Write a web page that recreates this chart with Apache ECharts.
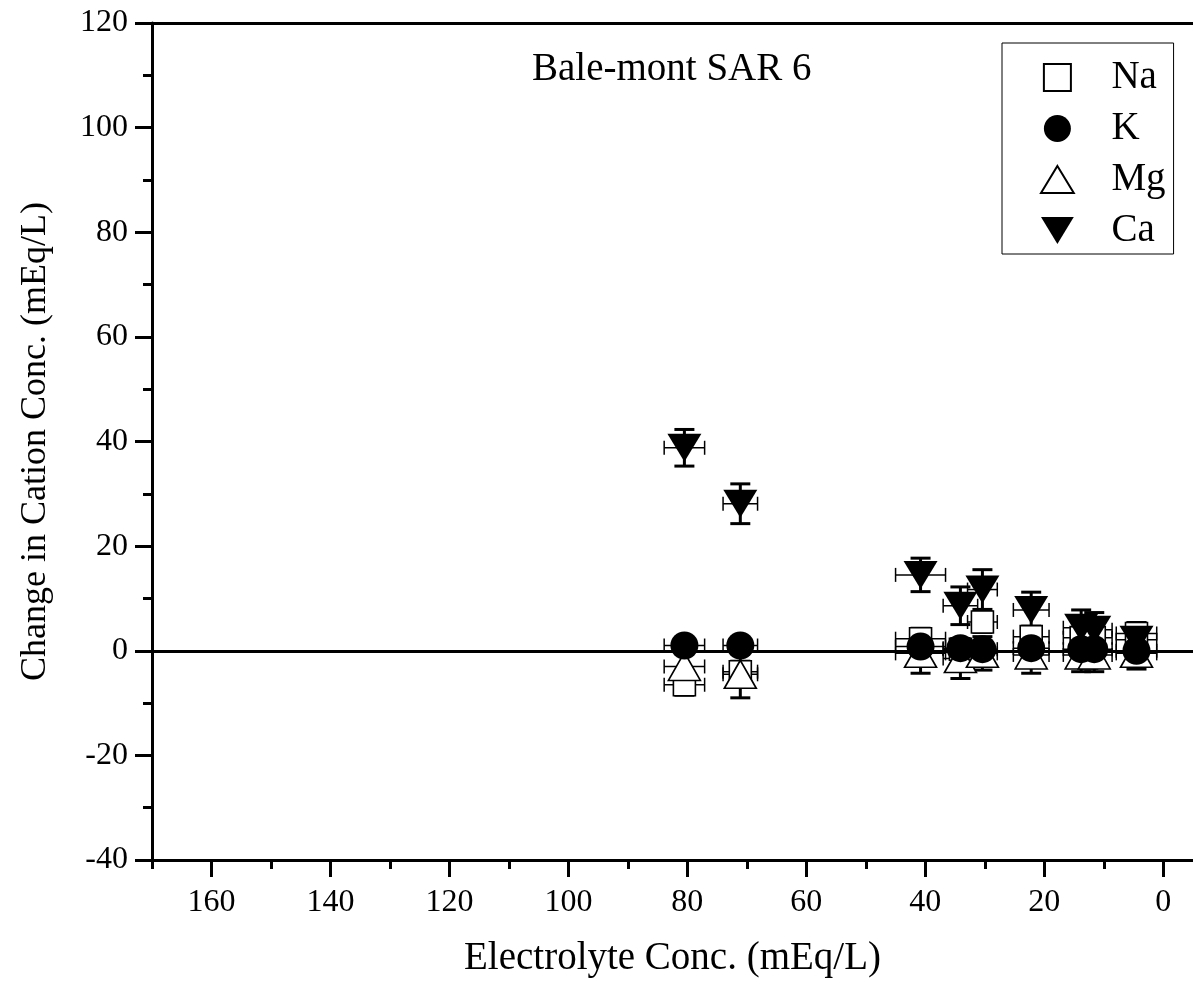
<!DOCTYPE html>
<html>
<head>
<meta charset="utf-8">
<script src="https://cdn.jsdelivr.net/npm/echarts@6/dist/echarts.min.js"></script>
<style>
html,body{margin:0;padding:0;background:#fff;}
#chart{width:1193px;height:991px;}
</style>
</head>
<body>
<div id="chart"></div>
<script>
// ---- data ----
const xVals = [80.5, 71.1, 40.8, 34.1, 30.4, 22.2, 13.8, 11.6, 4.5];
const xErr  = [3.4, 2.9, 4.2, 2.9, 2.5, 3.0, 3.0, 3.0, 3.4];

const naVals = [-6.5, -4.0, 2.3, 0.3, 5.5, 2.7, 2.5, 2.5, 3.3];
const naErr  = [2.0, 2.0, 2.0, 2.0, 2.0, 2.0, 2.0, 2.0, 2.0];
const kVals  = [1.0, 1.0, 0.8, 0.5, 0.3, 0.5, 0.3, 0.3, 0.0];
const kErr   = [1.0, 1.0, 1.0, 1.0, 1.0, 1.0, 1.0, 1.0, 1.0];
const mgVals = [-3.0, -4.5, -0.5, -1.5, -0.5, -0.8, -0.8, -0.8, -0.5];
const mgErr  = [3.0, 4.5, 3.8, 3.8, 3.2, 3.5, 3.2, 3.2, 3.0];
const caVals = [38.8, 28.1, 14.5, 8.6, 11.7, 7.8, 4.4, 4.0, 2.1];
const caErr  = [3.5, 3.8, 3.2, 3.6, 3.8, 3.4, 3.4, 3.3, 3.3];

const xMajorTicks = [0, 20, 40, 60, 80, 100, 120, 140, 160];
const xMinorTicks = [10, 30, 50, 70, 90, 110, 130, 150, 170];

const seriesNames = ['Na', 'K', 'Mg', 'Ca'];
const titleText = 'Bale-mont SAR 6';
const xName = 'Electrolyte Conc. (mEq/L)';
const yName = 'Change in Cation Conc. (mEq/L)';

const FONT = '"Liberation Serif", "Times New Roman", serif';

function pts(ys) { return xVals.map((x, i) => [x, ys[i]]); }

function errSeries(name, ys, yerr) {
  return {
    type: 'custom',
    name: name + ' error',
    z: 3,
    silent: true,
    data: xVals.map((x, i) => [x, ys[i], xErr[i], yerr[i]]),
    encode: { x: 0, y: 1 },
    renderItem: function (params, api) {
      const x = api.value(0), y = api.value(1), xe = api.value(2), ye = api.value(3);
      const c = api.coord([x, y]);
      const t = api.coord([x, y + ye]);
      const b = api.coord([x, y - ye]);
      const l = api.coord([x + xe, y]);
      const r = api.coord([x - xe, y]);
      const vcap = 10, hcap = 7;
      const st = { stroke: '#000', lineWidth: 3 };
      const st2 = { stroke: '#000', lineWidth: 1.5 };
      return {
        type: 'group',
        children: [
          { type: 'line', shape: { x1: c[0], y1: t[1], x2: c[0], y2: b[1] }, style: st },
          { type: 'line', shape: { x1: c[0] - vcap, y1: t[1], x2: c[0] + vcap, y2: t[1] }, style: st },
          { type: 'line', shape: { x1: c[0] - vcap, y1: b[1], x2: c[0] + vcap, y2: b[1] }, style: st },
          { type: 'line', shape: { x1: l[0], y1: c[1], x2: r[0], y2: c[1] }, style: st2 },
          { type: 'line', shape: { x1: l[0], y1: c[1] - hcap, x2: l[0], y2: c[1] + hcap }, style: st2 },
          { type: 'line', shape: { x1: r[0], y1: c[1] - hcap, x2: r[0], y2: c[1] + hcap }, style: st2 }
        ]
      };
    }
  };
}

const chart = echarts.init(document.getElementById('chart'), null, { renderer: 'canvas' });

const axisLbl = { fontFamily: FONT, fontSize: 32, color: '#000' };

chart.setOption({
  animation: false,
  backgroundColor: '#fff',
  title: {
    text: titleText,
    left: 527, top: 45,
    textStyle: { fontFamily: FONT, fontSize: 39, fontWeight: 'normal', color: '#000' }
  },
  legend: {
    data: [
      { name: seriesNames[0], icon: 'path://M0,0L10,0L10,10L0,10Z' },
      { name: seriesNames[1], icon: 'circle' },
      { name: seriesNames[2], icon: 'path://M17,0L34,28L0,28Z' },
      { name: seriesNames[3], icon: 'path://M0,0L34,0L17,28Z' }
    ],
    orient: 'vertical',
    left: 1002, top: 43,
    itemWidth: 34, itemHeight: 27, itemGap: 12,
    padding: [15, 8, 4, 38],
    borderColor: '#000', borderWidth: 1,
    textStyle: { fontFamily: FONT, fontSize: 39, color: '#000', padding: [0, 0, 0, 32] },
    selectedMode: false
  },
  grid: { left: 152, right: 0, top: 23, bottom: 131, containLabel: false },
  xAxis: [
    {
      type: 'value', min: -5, max: 170, inverse: true, position: 'bottom',
      name: xName, nameLocation: 'middle', nameGap: 79,
      nameTextStyle: { fontFamily: FONT, fontSize: 39, color: '#000' },
      axisLine: { show: true, onZero: false, lineStyle: { color: '#000', width: 3 } },
      axisTick: { show: true, inside: false, length: 17, customValues: xMajorTicks, lineStyle: { color: '#000', width: 3 } },
      axisLabel: Object.assign({ customValues: xMajorTicks, margin: 27 }, axisLbl),
      splitLine: { show: false }
    },
    {
      type: 'value', min: -5, max: 170, inverse: true, position: 'bottom',
      axisLine: { show: false, onZero: false },
      axisTick: { show: true, inside: false, length: 9, customValues: xMinorTicks, lineStyle: { color: '#000', width: 3 } },
      axisLabel: { show: false },
      splitLine: { show: false }
    },
    {
      type: 'value', min: -5, max: 170, inverse: true, position: 'top',
      axisLine: { show: true, onZero: false, lineStyle: { color: '#000', width: 3 } },
      axisTick: { show: false }, axisLabel: { show: false }, splitLine: { show: false }
    }
  ],
  yAxis: [
    {
      type: 'value', min: -40, max: 120, interval: 20, position: 'left',
      name: yName, nameLocation: 'middle', nameGap: 98, nameRotate: 90,
      nameTextStyle: { fontFamily: FONT, fontSize: 36, color: '#000' },
      axisLine: { show: true, onZero: false, lineStyle: { color: '#000', width: 3 } },
      axisTick: { show: true, inside: false, length: 17, lineStyle: { color: '#000', width: 3 } },
      minorTick: { show: true, splitNumber: 2, length: 9, lineStyle: { color: '#000', width: 3 } },
      axisLabel: Object.assign({ margin: 24 }, axisLbl),
      splitLine: { show: false }
    },
    {
      type: 'value', min: -40, max: 120, interval: 20, position: 'right',
      axisLine: { show: true, onZero: false, lineStyle: { color: '#ccc', width: 1 } },
      axisTick: { show: false }, axisLabel: { show: false }, splitLine: { show: false }
    }
  ],
  series: [
    errSeries(seriesNames[0], naVals, naErr),
    errSeries(seriesNames[1], kVals, kErr),
    errSeries(seriesNames[2], mgVals, mgErr),
    errSeries(seriesNames[3], caVals, caErr),
    {
      name: seriesNames[0], type: 'scatter', z: 4,
      symbol: 'rect', symbolSize: 22,
      itemStyle: { color: '#fff', borderColor: '#000', borderWidth: 1.6, opacity: 1 },
      data: pts(naVals),
      markLine: {
        silent: true, symbol: 'none', label: { show: false },
        lineStyle: { color: '#000', width: 3, type: 'solid' },
        data: [{ yAxis: 0 }]
      }
    },
    {
      name: seriesNames[1], type: 'scatter', z: 5,
      symbol: 'circle', symbolSize: 28,
      itemStyle: { color: '#000', opacity: 1 },
      data: pts(kVals)
    },
    {
      name: seriesNames[2], type: 'scatter', z: 4,
      symbol: 'triangle', symbolSize: [32, 28],
      itemStyle: { color: '#fff', borderColor: '#000', borderWidth: 1.6, opacity: 1 },
      data: pts(mgVals)
    },
    {
      name: seriesNames[3], type: 'scatter', z: 6,
      symbol: 'triangle', symbolSize: [34, 28], symbolRotate: 180,
      itemStyle: { color: '#000', opacity: 1 },
      data: pts(caVals)
    }
  ]
});
</script>
</body>
</html>
